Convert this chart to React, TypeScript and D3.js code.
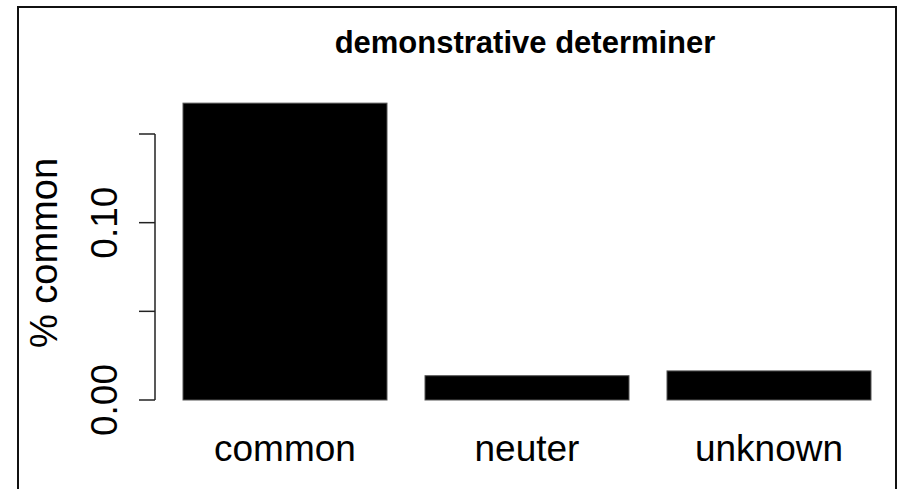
import React from "react";
import * as d3 from "d3";

const categories = ["common", "neuter", "unknown"];
const values = [0.1674, 0.0137, 0.0164];
const tickValues = [0, 0.05, 0.1, 0.15];
const tickLabels = ["0.00", "", "0.10", ""];
const title = "demonstrative determiner";
const yLabel = "% common";

export default function App() {
  const W = 902;
  const H = 489;
  const x = d3.scaleBand<string>().domain(categories).range([183, 871]).paddingInner(0.157).paddingOuter(0);
  const y = d3.scaleLinear().domain([0, 0.15]).range([400, 134]);
  const axisX = 155;
  const font = "'Liberation Sans', Arial, sans-serif";
  return (
    <svg width={W} height={H} style={{ position: "absolute", left: 0, top: 0, background: "#fff" }}>
      <rect x={0} y={0} width={W} height={H} fill="#fff" />
      <rect x={18} y={7} width={878} height={H + 20} fill="none" stroke="#111" strokeWidth={2} />
      <text x={525} y={53} textAnchor="middle" fontFamily={font} fontWeight="bold" fontSize={31} fill="#000">
        {title}
      </text>
      {categories.map((c, i) => (
        <rect
          key={c}
          x={x(c)}
          y={y(values[i])}
          width={x.bandwidth()}
          height={y(0) - y(values[i])}
          fill="#000"
          stroke="#555"
          strokeWidth={1}
        />
      ))}
      <line x1={axisX} x2={axisX} y1={y(0.15)} y2={y(0)} stroke="#222" strokeWidth={1.5} />
      {tickValues.map((t, i) => (
        <g key={t}>
          <line x1={axisX - 16} x2={axisX} y1={y(t)} y2={y(t)} stroke="#222" strokeWidth={1.5} />
          {tickLabels[i] && (
            <text
              transform={`translate(117,${y(t)}) rotate(-90)`}
              textAnchor="middle"
              fontFamily={font}
              fontSize={37}
              fill="#000"
            >
              {tickLabels[i]}
            </text>
          )}
        </g>
      ))}
      {categories.map((c) => (
        <text
          key={c}
          x={(x(c) as number) + x.bandwidth() / 2}
          y={461}
          textAnchor="middle"
          fontFamily={font}
          fontSize={37}
          fill="#000"
        >
          {c}
        </text>
      ))}
      <text
        transform={`translate(57,253) rotate(-90)`}
        textAnchor="middle"
        fontFamily={font}
        fontSize={38}
        fill="#000"
      >
        {yLabel}
      </text>
    </svg>
  );
}
